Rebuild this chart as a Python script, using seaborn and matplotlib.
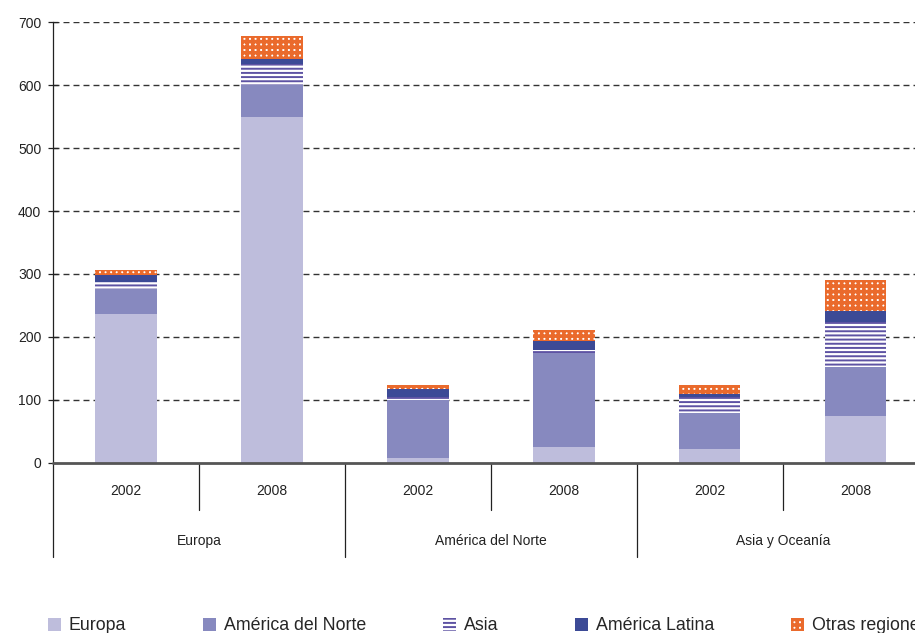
import numpy as np
import pandas as pd
import matplotlib
matplotlib.use("Agg")
import matplotlib.pyplot as plt
from matplotlib.patches import Patch
from matplotlib.transforms import blended_transform_factory
import seaborn as sns

# ---------- datos ----------
grupos = ["Europa", "América del Norte", "Asia y Oceanía"]
anios = ["2002", "2008"]
series = ["Europa", "América del Norte", "Asia", "América Latina", "Otras regiones"]

europa = [236, 549, 8, 26, 22, 75]
america_norte = [40, 51, 92, 149, 57, 78]
asia = [12, 33, 4, 5, 26, 71]
america_latina = [10, 8, 13, 13, 5, 18]
otras = [9, 37, 7, 18, 14, 48]

# ---------- estilo ----------
sns.set_theme(style="white")
plt.rcParams["font.family"] = ["Liberation Sans", "DejaVu Sans"]

colores = {
    "Europa": dict(color="#bebddc", edgecolor="#bebddc", hatch=None, hlw=1.0),
    "América del Norte": dict(color="#8789bf", edgecolor="#8789bf", hatch=None, hlw=1.0),
    "Asia": dict(color="white", edgecolor="#5e53a3", hatch="----", hlw=1.4),
    "América Latina": dict(color="#3c4a96", edgecolor="#3c4a96", hatch=None, hlw=1.0),
    "Otras regiones": dict(color="white", edgecolor="#ea6a2c", hatch="+++", hlw=2.6),
}

etiquetas = [f"{g} {a}" for g in grupos for a in anios]
valores = [europa, america_norte, asia, america_latina, otras]

fig = plt.figure(figsize=(9.15, 6.33), dpi=100)
ax = fig.add_axes([0.058, 0.2686, 0.957, 0.6966])

base = np.zeros(len(etiquetas))
for nombre, vals in zip(series, valores):
    st = colores[nombre]
    df = pd.DataFrame({"x": etiquetas, "y": vals})
    with plt.rc_context({"hatch.linewidth": st["hlw"]}):
        sns.barplot(data=df, x="x", y="y", order=etiquetas, bottom=base.copy(),
                    color=st["color"], edgecolor=st["edgecolor"], hatch=st["hatch"],
                    linewidth=0, width=0.42, saturation=1, ax=ax)
    base += np.array(vals)

ax.set_xlim(-0.5, 5.5)
ax.set_ylim(0, 700)
ax.set_yticks(range(0, 701, 100))
ax.set_xticks([])
ax.set_xlabel("")
ax.set_ylabel("")
for s in ax.spines.values():
    s.set_visible(False)
ax.spines["left"].set_visible(True)
ax.spines["left"].set_color("#222222")
ax.spines["left"].set_linewidth(0.9)
ax.tick_params(axis="y", direction="inout", length=7, width=0.9, color="#222222",
               pad=5, labelsize=10, labelcolor="#222222", left=True)
for yv in range(100, 701, 100):
    ax.axhline(yv, color="#333333", lw=1.0, ls=(0, (4.3, 2.9)), zorder=0)
ax.axhline(0, color="#555555", lw=2, zorder=5, clip_on=False)

# ---------- eje categórico inferior ----------
tr = blended_transform_factory(ax.transData, ax.transAxes)
for i in range(7):
    xv = i - 0.5
    y_fin = -0.213 if i % 2 == 0 else -0.107
    ax.plot([xv, xv], [0, y_fin], color="#222222", lw=0.9, transform=tr, clip_on=False)
for i, et in enumerate(etiquetas):
    ax.text(i, -0.064, et.split()[-1], transform=tr, ha="center", va="center",
            fontsize=10, color="#222222")
for j, g in enumerate(grupos):
    ax.text(2 * j + 0.5, -0.177, g, transform=tr, ha="center", va="center",
            fontsize=10, color="#222222")

# ---------- leyenda ----------
handles = []
for nombre in series:
    st = colores[nombre]
    with plt.rc_context({"hatch.linewidth": st["hlw"]}):
        handles.append(Patch(facecolor=st["color"], edgecolor=st["edgecolor"],
                             hatch=st["hatch"], linewidth=0, label=nombre))
leg = fig.legend(handles=handles, loc="lower left", bbox_to_anchor=(0.052, -0.002),
                 bbox_transform=fig.transFigure, ncol=5, frameon=False, fontsize=12.8,
                 handlelength=0.75, handleheight=0.75, handletextpad=0.45,
                 columnspacing=4.3, borderpad=0, borderaxespad=0)
for h, nombre in zip(leg.legend_handles, series):
    if hasattr(h, "set_hatch_linewidth"):
        h.set_hatch_linewidth(colores[nombre]["hlw"])
    else:
        h._hatch_linewidth = colores[nombre]["hlw"]

fig.savefig("out.png", dpi=100)
